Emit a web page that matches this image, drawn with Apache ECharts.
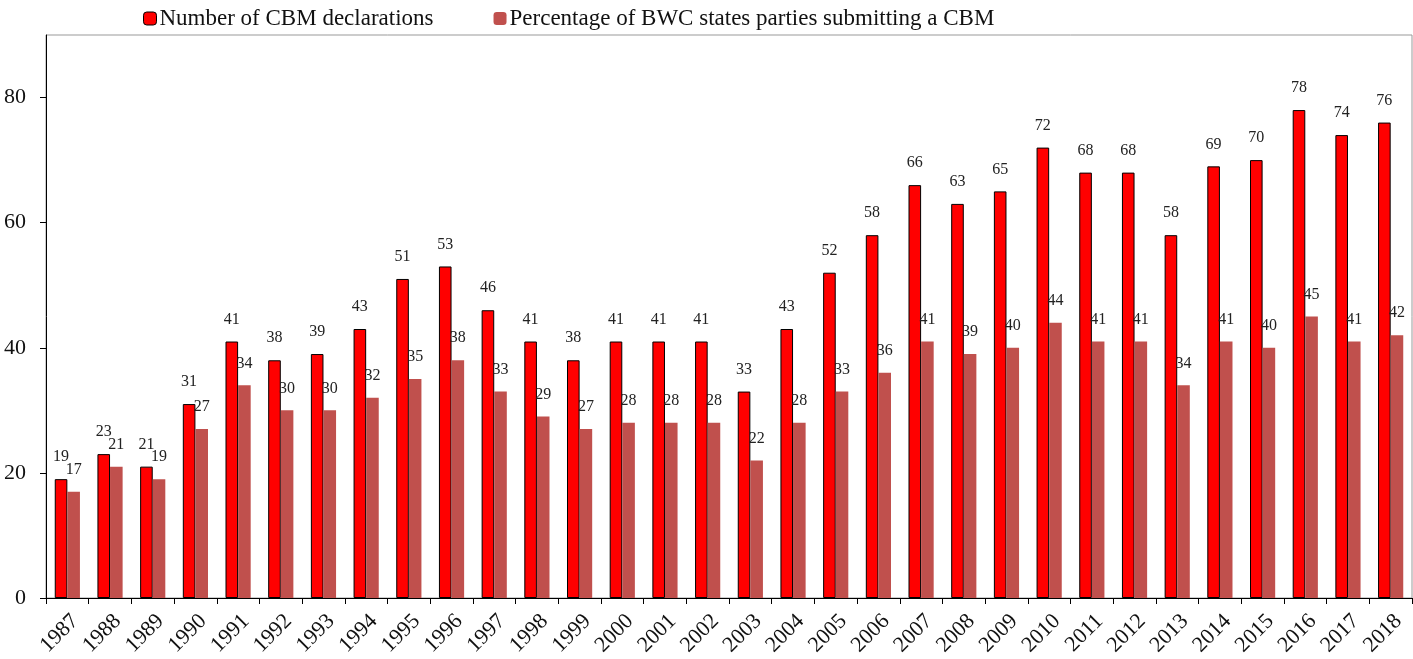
<!DOCTYPE html>
<html>
<head>
<meta charset="utf-8">
<script src="https://cdn.jsdelivr.net/npm/echarts@6/dist/echarts.min.js"></script>
<style>html,body{margin:0;padding:0;background:#fff;}#c{width:1413px;height:659px;}</style>
</head>
<body>
<div id="c"></div>
<script>
const years = ['1987','1988','1989','1990','1991','1992','1993','1994','1995','1996','1997','1998','1999','2000','2001','2002','2003','2004','2005','2006','2007','2008','2009','2010','2011','2012','2013','2014','2015','2016','2017','2018'];
const declarations = [19,23,21,31,41,38,39,43,51,53,46,41,38,41,41,41,33,43,52,58,66,63,65,72,68,68,58,69,70,78,74,76];
const percentage = [17,21,19,27,34,30,30,32,35,38,33,29,27,28,28,28,22,28,33,36,41,39,40,44,41,41,34,41,40,45,41,42];
const seriesNames = ['Number of CBM declarations','Percentage of BWC states parties submitting a CBM'];
const yTicks = [0,20,40,60,80];

const font = 'Liberation Serif';
const chart = echarts.init(document.getElementById('c'), null, {renderer:'canvas'});
const labelCfg = {show:true, position:'top', distance:14, color:'#222', fontFamily:font, fontSize:16};
chart.setOption({
  animation:false,
  textStyle:{fontFamily:font},
  legend:{
    top:2, left:138, itemWidth:13, itemHeight:13, itemGap:60,
    textStyle:{fontFamily:font, fontSize:23, color:'#111', padding:[0,0,0,-2]},
    data:[
      {name:seriesNames[0], itemStyle:{color:'#FF0000', borderColor:'#000', borderWidth:1}},
      {name:seriesNames[1], itemStyle:{color:'#C0504D'}}
    ]
  },
  grid:{left:46, right:1, top:35, bottom:61, show:true, borderColor:'#999', borderWidth:1, containLabel:false},
  xAxis:{
    type:'category', data:years,
    axisLine:{lineStyle:{color:'#000', width:1}},
    axisTick:{show:true, length:6, lineStyle:{color:'#000'}},
    axisLabel:{rotate:45, color:'#111', fontFamily:font, fontSize:22, margin:12, interval:0, align:'right', verticalAlign:'top'}
  },
  yAxis:{
    type:'value', min:0, max:90, interval:20,
    splitLine:{show:false},
    axisLine:{show:true, lineStyle:{color:'#000', width:1}},
    axisTick:{show:true, length:6, lineStyle:{color:'#000'}, customValues:yTicks},
    axisLabel:{color:'#111', fontFamily:font, fontSize:22, margin:20, customValues:yTicks}
  },
  series:[
    {name:seriesNames[0], type:'bar', data:declarations, barGap:'0%', barCategoryGap:'41%',
     itemStyle:{color:'#FF0000', borderColor:'#000', borderWidth:1}, label:labelCfg},
    {name:seriesNames[1], type:'bar', data:percentage, barGap:'0%', barCategoryGap:'41%',
     itemStyle:{color:'#C0504D'}, label:labelCfg}
  ]
});
</script>
</body>
</html>
